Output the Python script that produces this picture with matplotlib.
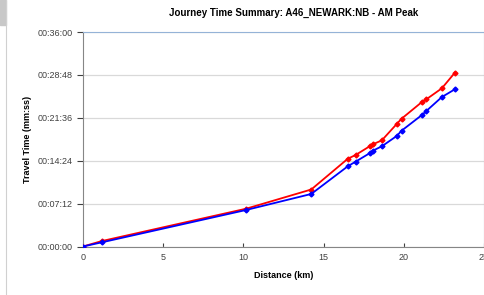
import numpy as np
import matplotlib.pyplot as plt
from matplotlib.ticker import FuncFormatter, MultipleLocator

# distance along route (km)
dist = [0, 1.18, 10.18, 14.23, 16.51, 16.99, 17.9, 18.07, 18.63, 19.56, 19.86, 21.15, 21.4, 22.37, 23.18]
# cumulative travel time (s)
red_t = [0, 55, 381, 574, 884, 921, 1012, 1029, 1069, 1234, 1287, 1458, 1482, 1593, 1750]
blue_t = [0, 42, 368, 529, 808, 854, 942, 965, 1009, 1113, 1166, 1327, 1364, 1505, 1583]

title = 'Journey Time Summary: A46_NEWARK:NB - AM Peak'


def hms(v, pos):
    v = int(round(v))
    return '%02d:%02d:%02d' % (v // 3600, (v % 3600) // 60, v % 60)


plt.rcParams['font.family'] = ['Liberation Sans', 'DejaVu Sans']

fig = plt.figure(figsize=(4.85, 2.95), dpi=100)
ax = fig.add_axes([0.171, 0.1644, 0.827, 0.7271])

ax.plot(dist, red_t, color='#ff0000', lw=1.3, marker='D', ms=2.5, zorder=3)
ax.plot(dist, blue_t, color='#0000ff', lw=1.3, marker='D', ms=2.5, zorder=4)

ax.set_xlim(0, 25)
ax.set_ylim(0, 2160)
ax.xaxis.set_major_locator(MultipleLocator(5))
ax.yaxis.set_major_locator(MultipleLocator(432))
ax.yaxis.set_major_formatter(FuncFormatter(hms))
ax.grid(axis='y', color='#d9d9d9', lw=0.9)
ax.set_axisbelow(True)

ax.tick_params(axis='x', direction='in', length=3, labelsize=6.5, colors='#404040', pad=5)
ax.tick_params(axis='y', direction='out', length=4, labelsize=6.5, colors='#404040')
for s in ['left', 'bottom']:
    ax.spines[s].set_color('#868686')
for s in ['top', 'right']:
    ax.spines[s].set_color('#95b3d7')

ax.set_xlabel('Distance (km)', fontsize=6.5, fontweight='bold', labelpad=6)
ax.set_ylabel('Travel Time (mm:ss)', fontsize=6.5, fontweight='bold', labelpad=4)
fig.text(0.605, 0.955, title, ha='center', va='center', fontsize=7, fontweight='bold')

# chart-area border remnants at the left edge
fig.add_artist(plt.Line2D([0.013, 0.013], [0, 1], color='#d0d0d0', lw=0.8))
fig.add_artist(plt.Rectangle((0, 0.915), 0.012, 0.085, color='#c8c8c8'))

fig.savefig('out.png')
